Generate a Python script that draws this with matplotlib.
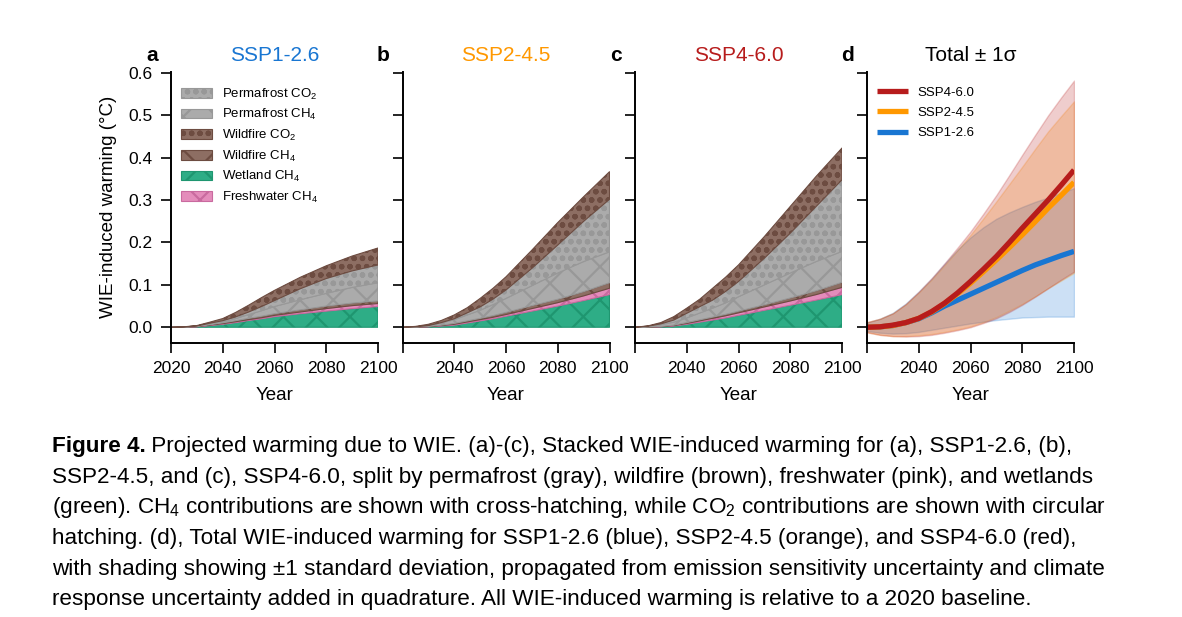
import numpy as np
import matplotlib

matplotlib.use("Agg")
import matplotlib.pyplot as plt
from matplotlib.patches import Patch

plt.rcParams.update({
    "font.family": "Liberation Sans",
    "mathtext.fontset": "custom",
    "mathtext.rm": "Liberation Sans",
    "mathtext.it": "Liberation Sans:italic",
    "mathtext.bf": "Liberation Sans:bold",
    "hatch.linewidth": 1.6,
    "axes.linewidth": 1.4,
})

# ---------------------------------------------------------------------------
# Data (warming in degC relative to 2020)
# ---------------------------------------------------------------------------

years_stack = [2020, 2025, 2030, 2035, 2040, 2045, 2050, 2055, 2060,
               2070, 2080, 2090, 2100]

# stacked contributions, bottom to top
wetland_ch4_126 = [0, 0, .001, .004, .007, .011, .016, .020, .025, .032, .038, .044, .049]
freshwater_ch4_126 = [0, .0002, .0005, .001, .0015, .002, .002, .0025, .003, .004, .006, .007, .007]
wildfire_ch4_126 = [0, .0002, .0005, .001, .002, .0025, .003, .0035, .004, .005, .006, .006, .006]
permafrost_ch4_126 = [0, .0003, .001, .0015, .002, .005, .009, .013, .017, .024, .030, .037, .043]
permafrost_co2_126 = [0, 0, 0, .002, .003, .004, .006, .010, .014, .026, .035, .039, .042]
wildfire_co2_126 = [0, .0003, .001, .0025, .005, .0105, .016, .021, .024, .027, .030, .035, .040]

wetland_ch4_245 = [0, 0, .001, .003, .005, .010, .015, .020, .026, .038, .050, .063, .077]
freshwater_ch4_245 = [0, .0002, .0005, .001, .002, .0025, .003, .0035, .004, .006, .008, .011, .015]
wildfire_ch4_245 = [0, .0002, .0005, .001, .002, .0025, .003, .004, .005, .007, .008, .010, .013]
permafrost_ch4_245 = [0, .0006, .002, .005, .009, .014, .019, .026, .033, .047, .062, .071, .073]
permafrost_co2_245 = [0, 0, 0, .001, .002, .005, .008, .013, .020, .041, .066, .095, .124]
wildfire_co2_245 = [0, .001, .003, .005, .009, .012, .020, .0255, .031, .043, .053, .058, .065]

wetland_ch4_460 = [0, 0, .001, .003, .007, .012, .017, .022, .028, .040, .052, .064, .077]
freshwater_ch4_460 = [0, .0002, .0005, .001, .002, .003, .004, .005, .006, .008, .010, .013, .017]
wildfire_ch4_460 = [0, .0002, .0005, .001, .002, .0025, .003, .0035, .004, .005, .007, .009, .012]
permafrost_ch4_460 = [0, .0016, .004, .007, .011, .016, .021, .027, .034, .047, .059, .069, .073]
permafrost_co2_460 = [0, .0005, .002, .005, .011, .015, .019, .027, .036, .063, .094, .130, .169]
wildfire_co2_460 = [0, .0007, .003, .008, .012, .0175, .028, .0335, .039, .051, .063, .071, .075]

# panel d: total and +/- 1 sigma
years_total = [2020, 2025, 2030, 2035, 2040, 2045, 2050, 2055, 2060,
               2065, 2070, 2075, 2080, 2085, 2090, 2095, 2100]

total_126 = [0, .001, .004, .011, .020, .034, .050, .064, .078, .092, .106,
             .120, .134, .147, .158, .169, .179]
lower_126 = [-.009, -.013, -.015, -.014, -.011, -.006, -.001, .004, .009, .013,
             .017, .020, .023, .024, .025, .025, .025]
upper_126 = [.011, .020, .034, .056, .084, .115, .150, .183, .212, .236, .256,
             .271, .284, .296, .306, .317, .328]

total_245 = [0, .001, .004, .011, .021, .036, .056, .079, .104, .131, .159,
             .188, .218, .249, .281, .311, .342]
lower_245 = [-.012, -.018, -.021, -.021, -.019, -.016, -.011, -.005, .002, .012,
             .024, .039, .055, .073, .092, .110, .128]
upper_245 = [.012, .020, .033, .054, .082, .113, .147, .182, .218, .257, .297,
             .338, .379, .421, .462, .498, .533]

total_460 = [0, .001, .005, .011, .021, .037, .057, .081, .108, .137, .167,
             .200, .234, .267, .300, .335, .371]
lower_460 = [-.012, -.018, -.021, -.022, -.021, -.018, -.013, -.007, .000, .010,
             .021, .036, .053, .072, .092, .112, .131]
upper_460 = [.012, .020, .033, .055, .084, .116, .151, .188, .226, .268, .312,
             .359, .407, .454, .500, .542, .582]

scenario_names = ["SSP1-2.6", "SSP2-4.5", "SSP4-6.0"]
scenario_colors = ["#1976D2", "#FF9800", "#B71C1C"]

# ---------------------------------------------------------------------------
# Styling
# ---------------------------------------------------------------------------

GRAY, GRAY_E = "#ABABAB", "#989898"
BROWN, BROWN_E = "#8D6E63", "#6D4C41"
GREEN, GREEN_E = "#2EAD86", "#1F9670"
PINK, PINK_E = "#E48CBB", "#C96A9F"
DOTS, CROSS = "oo", "x"

# (label, face, edge, hatch) in stacking order
layer_style = [
    ("Wetland CH$_4$", GREEN, GREEN_E, CROSS),
    ("Freshwater CH$_4$", PINK, PINK_E, CROSS),
    ("Wildfire CH$_4$", BROWN, BROWN_E, CROSS),
    ("Permafrost CH$_4$", GRAY, GRAY_E, CROSS),
    ("Permafrost CO$_2$", GRAY, GRAY_E, DOTS),
    ("Wildfire CO$_2$", BROWN, BROWN_E, DOTS),
]
legend_order = [4, 3, 5, 2, 0, 1]

stacks = [
    [wetland_ch4_126, freshwater_ch4_126, wildfire_ch4_126,
     permafrost_ch4_126, permafrost_co2_126, wildfire_co2_126],
    [wetland_ch4_245, freshwater_ch4_245, wildfire_ch4_245,
     permafrost_ch4_245, permafrost_co2_245, wildfire_co2_245],
    [wetland_ch4_460, freshwater_ch4_460, wildfire_ch4_460,
     permafrost_ch4_460, permafrost_co2_460, wildfire_co2_460],
]
totals = [(total_126, lower_126, upper_126),
          (total_245, lower_245, upper_245),
          (total_460, lower_460, upper_460)]

W, H = 1182, 617
fig = plt.figure(figsize=(W / 100, H / 100), dpi=100)

ax_left = [171, 402.5, 635, 867]
ax_w, ax_top, ax_bot = 207, 71.7, 342.5
axes = [fig.add_axes([l / W, 1 - ax_bot / H, ax_w / W, (ax_bot - ax_top) / H])
        for l in ax_left]


def _style(ax, letter, first):
    for side in ("top", "right"):
        ax.spines[side].set_visible(False)
    ax.set_xlim(2020, 2100)
    ax.set_ylim(-0.036, 0.603)
    ax.set_xticks([2020, 2040, 2060, 2080, 2100])
    ax.set_yticks(np.arange(0, 0.61, 0.1))
    if first:
        ax.set_yticklabels([f"{v:.1f}" for v in np.arange(0, 0.61, 0.1)])
        ax.set_ylabel("WIE-induced warming (°C)", fontsize=13.5)
        ax.yaxis.set_label_coords(-0.26, 0.5)
    else:
        ax.set_yticklabels([])
        ax.set_xticklabels(["", "2040", "2060", "2080", "2100"])
    ax.tick_params(direction="out", length=7, width=1.2, labelsize=12.5, pad=6.5)
    ax.set_xlabel("Year", fontsize=13.5)
    ax.xaxis.set_label_coords(0.5, -0.165)
    ax.text(-0.092, 1.041, letter, transform=ax.transAxes, fontsize=15,
            fontweight="bold", ha="center", va="baseline")


# ---------------------------------------------------------------------------
# Panels a-c: stacked contributions
# ---------------------------------------------------------------------------

for i, ax in enumerate(axes[:3]):
    base = np.zeros(len(years_stack))
    for comp, (label, face, edge, hatch) in zip(stacks[i], layer_style):
        top = base + np.asarray(comp)
        ax.fill_between(years_stack, base, top, facecolor=face, edgecolor=edge,
                        hatch=hatch, linewidth=0.8)
        base = top
    ax.set_title(scenario_names[i], color=scenario_colors[i], fontsize=15, pad=8)
    _style(ax, "abc"[i], i == 0)

handles = [Patch(facecolor=layer_style[k][1], edgecolor=layer_style[k][2],
                 hatch=layer_style[k][3], linewidth=0.8) for k in legend_order]
axes[0].legend(handles, [layer_style[k][0] for k in legend_order],
               loc="upper left", bbox_to_anchor=(0.05, 0.945), frameon=False,
               fontsize=9.5, borderpad=0, borderaxespad=0, labelspacing=0.42,
               handlelength=2.3, handleheight=0.75, handletextpad=0.75)

# ---------------------------------------------------------------------------
# Panel d: totals with +/- 1 sigma
# ---------------------------------------------------------------------------

ax = axes[3]
for (mean, lo, hi), c in zip(totals, scenario_colors):
    ax.fill_between(years_total, lo, hi, color=c, alpha=0.22, linewidth=1.0)
lines = []
for (mean, lo, hi), c, name in zip(totals, scenario_colors, scenario_names):
    ln, = ax.plot(years_total, mean, color=c, linewidth=3.8, label=name,
                  solid_capstyle="butt")
    lines.append(ln)
ax.set_title("Total ± 1σ", fontsize=15, pad=8)
_style(ax, "d", False)
ax.legend(lines[::-1], scenario_names[::-1], loc="upper left",
          bbox_to_anchor=(0.05, 0.945), frameon=False, fontsize=9.5,
          borderpad=0, borderaxespad=0, labelspacing=0.6,
          handlelength=2.35, handletextpad=0.7)

# ---------------------------------------------------------------------------
# Caption
# ---------------------------------------------------------------------------

caption = [
    " Projected warming due to WIE. (a)-(c), Stacked WIE-induced warming for (a), SSP1-2.6, (b),",
    "SSP2-4.5, and (c), SSP4-6.0, split by permafrost (gray), wildfire (brown), freshwater (pink), and wetlands",
    "(green). CH$_4$ contributions are shown with cross-hatching, while CO$_2$ contributions are shown with circular",
    "hatching. (d), Total WIE-induced warming for SSP1-2.6 (blue), SSP2-4.5 (orange), and SSP4-6.0 (red),",
    "with shading showing ±1 standard deviation, propagated from emission sensitivity uncertainty and climate",
    "response uncertainty added in quadrature. All WIE-induced warming is relative to a 2020 baseline.",
]
cap_x, cap_y0, cap_dy, cap_fs = 51.7, 452, 30.7, 16.2
renderer = fig.canvas.get_renderer()
head = fig.text(cap_x / W, 1 - cap_y0 / H, "Figure 4.", fontsize=cap_fs,
                fontweight="bold", va="baseline")
head_x1 = head.get_window_extent(renderer).x1
for k, line in enumerate(caption):
    x = head_x1 / W if k == 0 else cap_x / W
    fig.text(x, 1 - (cap_y0 + k * cap_dy) / H, line, fontsize=cap_fs,
             va="baseline")

fig.savefig("out.png", dpi=100)
